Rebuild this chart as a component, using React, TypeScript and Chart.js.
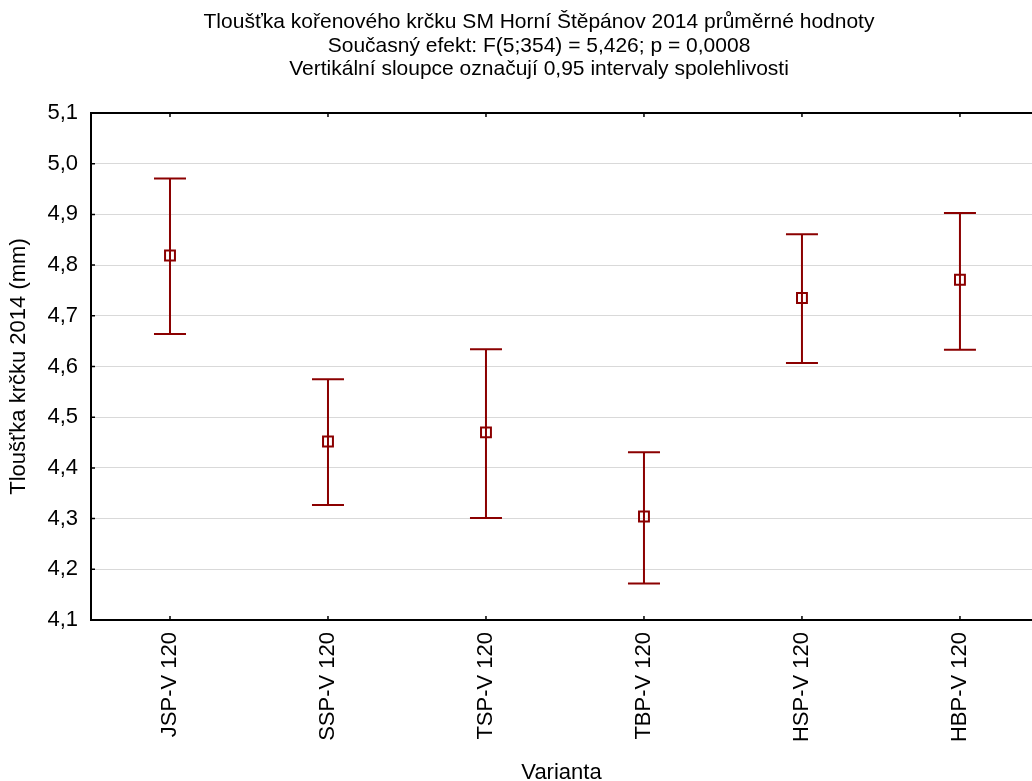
import React, { useEffect, useRef } from "react";
import { Chart, registerables } from "chart.js";

Chart.register(...registerables);

const categories = ["JSP-V 120", "SSP-V 120", "TSP-V 120", "TBP-V 120", "HSP-V 120", "HBP-V 120"];
const means = [4.819, 4.452, 4.470, 4.304, 4.735, 4.771];
const upper = [4.971, 4.575, 4.634, 4.431, 4.861, 4.903];
const lower = [4.664, 4.327, 4.301, 4.172, 4.607, 4.633];
const yTicks = [4.1, 4.2, 4.3, 4.4, 4.5, 4.6, 4.7, 4.8, 4.9, 5.0, 5.1];
const titleLines = [
  "Tloušťka kořenového krčku SM Horní Štěpánov 2014 průměrné hodnoty",
  "Současný efekt: F(5;354) = 5,426; p = 0,0008",
  "Vertikální sloupce označují 0,95 intervaly spolehlivosti",
];
const yTitle = "Tloušťka krčku 2014 (mm)";
const xTitle = "Varianta";

const RED = "#8B0000";
const FONT = "'Liberation Sans', Arial, sans-serif";

export default function App() {
  const ref = useRef<HTMLCanvasElement | null>(null);

  useEffect(() => {
    const canvas = ref.current;
    if (!canvas) return;

    const errorBars = {
      id: "errorBars",
      beforeDatasetsDraw(chart: any) {
        const { ctx } = chart;
        const xs = chart.scales.x;
        const ys = chart.scales.y;
        ctx.save();
        ctx.strokeStyle = RED;
        ctx.lineWidth = 2;
        means.forEach((_, i) => {
          const px = xs.getPixelForValue(i + 1);
          const pu = ys.getPixelForValue(upper[i]);
          const pl = ys.getPixelForValue(lower[i]);
          ctx.beginPath();
          ctx.moveTo(px, pu);
          ctx.lineTo(px, pl);
          ctx.moveTo(px - 16, pu);
          ctx.lineTo(px + 16, pu);
          ctx.moveTo(px - 16, pl);
          ctx.lineTo(px + 16, pl);
          ctx.stroke();
        });
        ctx.restore();
      },
    };

    const frame = {
      id: "frame",
      afterDraw(chart: any) {
        const { ctx, chartArea } = chart;
        const xs = chart.scales.x;
        const ys = chart.scales.y;
        ctx.save();
        ctx.strokeStyle = "#000";
        ctx.lineWidth = 2;
        ctx.beginPath();
        ctx.moveTo(chartArea.left, chartArea.top);
        ctx.lineTo(chartArea.right, chartArea.top);
        ctx.stroke();
        ctx.lineWidth = 1.5;
        ctx.beginPath();
        yTicks.forEach((v) => {
          const py = ys.getPixelForValue(v);
          ctx.moveTo(chartArea.left, py);
          ctx.lineTo(chartArea.left + 4, py);
        });
        categories.forEach((_, i) => {
          const px = xs.getPixelForValue(i + 1);
          ctx.moveTo(px, chartArea.bottom);
          ctx.lineTo(px, chartArea.bottom - 4);
          ctx.moveTo(px, chartArea.top);
          ctx.lineTo(px, chartArea.top + 4);
        });
        ctx.stroke();

        ctx.fillStyle = "#000";
        ctx.font = `21px ${FONT}`;
        ctx.textAlign = "center";
        ctx.textBaseline = "middle";
        const ys0 = [22, 46, 69];
        titleLines.forEach((t, i) => ctx.fillText(t, 539, ys0[i]));
        ctx.restore();
      },
    };

    const chart = new Chart(canvas, {
      type: "scatter",
      data: {
        datasets: [
          {
            data: means.map((m, i) => ({ x: i + 1, y: m })),
            pointStyle: "rect",
            pointRadius: 7,
            pointHoverRadius: 7,
            borderColor: RED,
            backgroundColor: "rgba(0,0,0,0)",
            pointBorderWidth: 2,
            showLine: false,
          },
        ],
      },
      options: {
        responsive: false,
        animation: false,
        layout: { autoPadding: false, padding: { top: 113, left: 0, right: 0, bottom: 0 } },
        plugins: {
          legend: { display: false },
          title: { display: false },
          tooltip: { enabled: false },
        },
        scales: {
          x: {
            type: "linear",
            min: 0.5,
            max: 6.456,
            afterBuildTicks: (scale: any) => {
              scale.ticks = categories.map((_, i) => ({ value: i + 1 }));
            },
            afterFit: (scale: any) => {
              scale.height = 161;
              scale.paddingRight = 0;
              scale.paddingLeft = 0;
            },
            grid: { display: false, drawTicks: false },
            border: { display: true, color: "#000", width: 2 },
            ticks: {
              autoSkip: false,
              minRotation: 90,
              maxRotation: 90,
              padding: 12,
              color: "#000",
              font: { family: FONT, size: 22 },
              callback: (v: any) => categories[Math.round(Number(v)) - 1] ?? "",
            },
            title: {
              display: true,
              text: xTitle,
              color: "#000",
              font: { family: FONT, size: 22, lineHeight: 0.7 },
              padding: { top: 0, bottom: 0 },
            },
          },
          y: {
            type: "linear",
            min: 4.1,
            max: 5.1,
            afterBuildTicks: (scale: any) => {
              scale.ticks = yTicks.map((v) => ({ value: v }));
            },
            afterFit: (scale: any) => {
              scale.width = 91;
            },
            grid: { color: "#d9d9d9", lineWidth: 1, drawTicks: false },
            border: { display: true, color: "#000", width: 2 },
            ticks: {
              padding: 13,
              color: "#000",
              font: { family: FONT, size: 22 },
              callback: (v: any) => Number(v).toFixed(1).replace(".", ","),
            },
            title: {
              display: true,
              text: yTitle,
              color: "#000",
              font: { family: FONT, size: 22, lineHeight: 1 },
              padding: { top: 8, bottom: 0 },
            },
          },
        },
      },
      plugins: [errorBars, frame],
    });

    return () => chart.destroy();
  }, []);

  return (
    <div style={{ position: "absolute", left: 0, top: 0, width: 1032, height: 781, background: "#fff" }}>
      <canvas ref={ref} width={1032} height={781} style={{ display: "block" }} />
    </div>
  );
}
